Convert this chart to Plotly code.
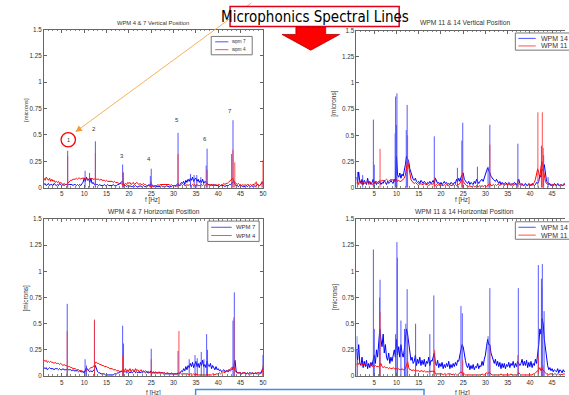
import plotly.graph_objects as go

W, H = 569, 395


def fx(p):
    return p / W


def fy(p):
    return 1 - p / H


# frequency grid of the spectra: 1.00 .. 50.00 Hz every 0.25 Hz
freq_start, freq_step, n_freq = 1.0, 0.25, 197
freq = [freq_start + freq_step * i for i in range(n_freq)]

# ---- spectrum floors, hundredths of a micron (one row = 1 Hz) ----
tl_wpm7_base = [
    3, 4, 2, 3, 4, 2, 3, 3, 2, 4, 3, 2, 3, 2, 4, 3, 2, 3, 2, 3,
    3, 4, 3, 3, 3, 3, 2, 3, 3, 2, 3, 2, 3, 2, 4, 5, 9, 6, 10, 7,
    8, 5, 9, 4, 5, 3, 4, 3, 3, 2, 3, 2, 2, 2, 3, 2, 2, 3, 2, 2,
    2, 2, 3, 2, 2, 2, 3, 3, 4, 5, 6, 5, 2, 2, 1, 2, 1, 2, 1, 1,
    2, 1, 2, 1, 1, 1, 2, 1, 1, 2, 1, 1, 1, 2, 3, 2, 4, 2, 1, 1,
    1, 1, 1, 1, 1, 2, 1, 1, 1, 1, 2, 1, 1, 1, 1, 2, 1, 2, 2, 3,
    4, 2, 3, 5, 4, 6, 3, 7, 5, 8, 6, 9, 7, 10, 6, 8, 9, 6, 8, 5,
    7, 5, 8, 4, 6, 5, 4, 3, 3, 2, 3, 2, 2, 3, 2, 2, 2, 1, 2, 2,
    2, 2, 1, 2, 2, 2, 3, 3, 4, 5, 6, 3, 2, 2, 1, 2, 1, 2, 1, 1,
    1, 2, 1, 2, 1, 1, 2, 1, 2, 1, 2, 3, 2, 2, 3, 5, 4]
tl_wpm4_base = [
    9, 7, 10, 8, 7, 9, 6, 8, 6, 7, 5, 6, 5, 6, 4, 5, 4, 3, 4, 3,
    3, 4, 5, 6, 7, 7, 8, 8, 8, 9, 8, 9, 9, 8, 9, 9, 9, 8, 9, 8,
    8, 9, 8, 9, 8, 8, 9, 8, 8, 8, 7, 8, 7, 7, 7, 6, 7, 6, 6, 6,
    6, 6, 5, 6, 5, 5, 5, 4, 4, 4, 3, 3, 3, 4, 3, 5, 4, 5, 3, 4,
    5, 3, 4, 5, 4, 3, 4, 3, 3, 4, 3, 3, 2, 2, 2, 1, 2, 1, 2, 2,
    2, 2, 3, 2, 3, 3, 3, 3, 3, 3, 3, 3, 3, 2, 3, 2, 2, 2, 1, 2,
    2, 2, 2, 3, 2, 3, 2, 2, 3, 2, 3, 2, 2, 3, 2, 3, 2, 3, 2, 2,
    2, 3, 2, 3, 2, 3, 4, 3, 2, 3, 2, 3, 3, 2, 3, 2, 3, 3, 2, 3,
    3, 4, 3, 4, 4, 5, 6, 7, 8, 9, 6, 5, 4, 3, 4, 3, 3, 2, 3, 2,
    3, 2, 3, 3, 2, 3, 2, 3, 3, 4, 5, 3, 3, 2, 3, 4, 6]
tr_wpm14_base = [
    10, 5, 15, 6, 4, 8, 3, 7, 5, 3, 9, 4, 6, 3, 5, 8, 4, 6, 3, 5,
    4, 6, 3, 5, 4, 7, 5, 3, 6, 4, 5, 7, 5, 4, 8, 6, 30, 12, 10, 14,
    9, 13, 11, 16, 22, 30, 28, 25, 18, 14, 10, 8, 7, 9, 6, 5, 6, 4, 7, 5,
    4, 6, 5, 3, 5, 4, 6, 4, 5, 7, 4, 9, 6, 4, 5, 3, 5, 3, 4, 6,
    4, 5, 3, 4, 3, 5, 4, 3, 5, 4, 8, 6, 9, 6, 10, 12, 14, 8, 6, 5,
    4, 6, 3, 5, 4, 3, 6, 4, 8, 5, 4, 6, 7, 8, 6, 10, 12, 16, 19, 17,
    14, 11, 9, 8, 7, 6, 8, 5, 4, 6, 3, 5, 4, 3, 5, 4, 3, 5, 4, 3,
    4, 3, 5, 4, 3, 5, 8, 4, 3, 4, 2, 3, 4, 3, 2, 4, 3, 2, 4, 3,
    2, 3, 5, 4, 6, 12, 10, 18, 16, 22, 10, 6, 5, 3, 4, 2, 3, 2, 4, 3,
    2, 4, 3, 2, 3, 2, 3, 4, 2, 3, 2, 3, 2, 3, 2, 3, 2]
tr_wpm11_base = [
    4, 6, 3, 7, 5, 3, 6, 4, 5, 4, 6, 3, 4, 5, 3, 4, 5, 4, 6, 5,
    6, 7, 6, 7, 7, 6, 7, 8, 7, 6, 7, 8, 7, 8, 6, 7, 8, 6, 7, 6,
    6, 7, 8, 9, 12, 18, 25, 20, 12, 8, 6, 5, 4, 5, 4, 3, 4, 3, 4, 3,
    3, 4, 3, 3, 3, 2, 3, 4, 3, 4, 3, 2, 3, 2, 3, 2, 3, 2, 2, 3,
    2, 3, 2, 2, 3, 2, 2, 3, 2, 3, 2, 3, 3, 4, 6, 8, 6, 4, 3, 2,
    2, 1, 2, 1, 1, 2, 1, 1, 2, 1, 1, 2, 1, 2, 1, 2, 2, 1, 2, 3,
    4, 2, 2, 3, 2, 3, 2, 3, 3, 2, 3, 4, 3, 2, 3, 3, 2, 3, 3, 2,
    3, 2, 3, 3, 2, 3, 4, 3, 2, 3, 2, 2, 3, 2, 2, 3, 2, 3, 2, 4,
    5, 8, 12, 18, 14, 10, 20, 25, 18, 10, 6, 4, 3, 4, 3, 2, 3, 2, 3, 2,
    2, 3, 2, 2, 3, 2, 2, 3, 2, 2, 3, 2, 2, 3, 2, 2, 2]
bl_wpm7_base = [
    8, 7, 8, 6, 7, 8, 7, 7, 7, 6, 7, 7, 7, 6, 7, 6, 6, 7, 6, 6,
    6, 7, 6, 6, 6, 5, 6, 5, 5, 5, 5, 4, 5, 4, 4, 4, 3, 6, 8, 6,
    5, 4, 5, 4, 5, 6, 10, 6, 4, 3, 3, 2, 2, 2, 2, 1, 1, 1, 1, 1,
    1, 1, 1, 2, 2, 2, 3, 3, 4, 4, 5, 4, 4, 4, 3, 4, 4, 3, 4, 3,
    4, 5, 3, 4, 3, 4, 3, 4, 3, 4, 4, 3, 4, 3, 3, 4, 5, 3, 3, 3,
    3, 3, 3, 3, 3, 3, 3, 2, 3, 2, 2, 2, 2, 2, 2, 2, 2, 2, 2, 2,
    3, 2, 3, 5, 4, 7, 5, 9, 6, 10, 8, 12, 9, 13, 8, 11, 14, 9, 12, 8,
    13, 10, 15, 9, 11, 8, 14, 10, 9, 12, 7, 10, 8, 6, 9, 6, 7, 5, 6, 4,
    5, 6, 4, 5, 5, 4, 6, 5, 6, 8, 10, 15, 5, 3, 3, 3, 3, 2, 3, 3,
    3, 2, 3, 2, 3, 3, 2, 3, 2, 3, 2, 3, 3, 2, 3, 5, 8]
bl_wpm4_base = [
    15, 14, 15, 13, 14, 13, 14, 13, 13, 12, 13, 12, 12, 12, 11, 12, 11, 10, 11, 10,
    10, 9, 9, 9, 8, 8, 7, 7, 7, 6, 6, 6, 5, 5, 5, 4, 4, 5, 5, 6,
    6, 7, 8, 8, 9, 10, 13, 13, 12, 12, 11, 11, 10, 10, 9, 9, 9, 8, 8, 7,
    7, 7, 6, 6, 6, 5, 5, 5, 4, 5, 4, 6, 5, 7, 4, 6, 5, 7, 4, 6,
    6, 4, 7, 5, 6, 4, 5, 6, 4, 5, 4, 5, 4, 4, 4, 3, 4, 3, 4, 3,
    4, 3, 3, 4, 3, 3, 3, 3, 3, 2, 3, 3, 2, 2, 3, 2, 2, 2, 2, 2,
    2, 3, 3, 2, 2, 2, 2, 2, 2, 2, 1, 2, 2, 1, 2, 1, 1, 2, 1, 1,
    1, 1, 1, 1, 1, 1, 1, 1, 1, 1, 1, 2, 2, 1, 2, 2, 2, 3, 2, 3,
    3, 4, 3, 5, 4, 6, 5, 7, 8, 6, 9, 5, 4, 3, 3, 3, 3, 2, 3, 3,
    3, 2, 3, 2, 3, 2, 3, 3, 2, 3, 3, 2, 3, 3, 2, 4, 6]
br_wpm14_base = [
    25, 15, 30, 12, 10, 18, 8, 14, 9, 15, 7, 12, 8, 13, 10, 16, 20, 12, 25, 18,
    30, 45, 35, 28, 40, 22, 30, 18, 15, 22, 12, 18, 14, 20, 25, 18, 35, 20, 28, 18,
    30, 22, 18, 25, 35, 45, 40, 30, 22, 15, 18, 12, 14, 20, 10, 16, 12, 18, 10, 15,
    11, 16, 9, 14, 12, 18, 10, 15, 14, 20, 22, 12, 10, 15, 8, 12, 9, 13, 7, 11,
    8, 12, 9, 14, 7, 11, 8, 12, 9, 13, 10, 15, 14, 20, 25, 30, 28, 20, 15, 10,
    8, 12, 6, 10, 7, 11, 6, 9, 8, 12, 7, 10, 9, 14, 10, 16, 20, 28, 35, 30,
    30, 22, 18, 14, 12, 16, 10, 14, 9, 13, 7, 12, 8, 12, 7, 11, 9, 13, 8, 12,
    10, 14, 8, 12, 9, 14, 12, 10, 12, 16, 10, 14, 10, 15, 8, 13, 9, 14, 8, 12,
    10, 16, 12, 20, 30, 45, 40, 55, 50, 35, 25, 15, 10, 6, 8, 5, 7, 4, 6, 5,
    4, 7, 3, 6, 5, 3, 6, 4, 5, 3, 5, 4, 4, 6, 3, 5, 4]
br_wpm11_base = [
    10, 13, 11, 12, 11, 12, 10, 11, 11, 10, 11, 10, 10, 11, 9, 10, 9, 10, 9, 9,
    9, 10, 12, 9, 8, 9, 8, 8, 8, 7, 8, 7, 7, 8, 7, 7, 7, 6, 7, 6,
    6, 7, 6, 6, 7, 10, 14, 8, 6, 6, 5, 6, 5, 6, 5, 5, 5, 4, 5, 5,
    4, 5, 4, 4, 4, 4, 5, 4, 5, 4, 5, 2, 2, 2, 2, 2, 2, 2, 1, 2,
    2, 1, 2, 2, 2, 2, 1, 2, 1, 2, 1, 1, 2, 3, 4, 3, 3, 2, 1, 1,
    1, 1, 1, 1, 1, 1, 1, 1, 1, 1, 1, 1, 1, 2, 1, 1, 2, 3, 2, 3,
    3, 2, 1, 1, 1, 1, 1, 1, 1, 1, 2, 1, 1, 1, 1, 1, 1, 1, 1, 2,
    1, 1, 1, 1, 1, 2, 3, 2, 1, 1, 1, 1, 1, 1, 1, 1, 1, 1, 1, 2,
    2, 3, 4, 5, 6, 8, 5, 7, 6, 4, 3, 2, 2, 1, 2, 2, 2, 1, 2, 2,
    1, 2, 2, 1, 2, 1, 2, 2, 1, 2, 2, 1, 2, 1, 2, 2, 2]

# ---- spectral lines: frequency [Hz] and amplitude [microns] ----
tl_wpm7_line_f = [6.3, 10.2, 11.2, 12.5, 18.6, 18.75, 24.8, 25.0, 31.0, 33.8, 34.6, 35.2, 36.1, 37.3, 37.5, 43.0, 43.3, 49.8]
tl_wpm7_line_a = [0.35, 0.16, 0.14, 0.44, 0.22, 0.14, 0.11, 0.18, 0.52, 0.13, 0.12, 0.12, 0.10, 0.21, 0.37, 0.32, 0.64, 0.06]
tl_wpm4_line_f = [6.3, 12.5, 18.7, 25.0, 31.0, 37.5, 43.3, 43.7, 48.5, 50.0]
tl_wpm4_line_a = [0.30, 0.33, 0.15, 0.06, 0.32, 0.17, 0.36, 0.24, 0.06, 0.26]

tr_wpm14_line_f = [1.2, 2.4, 4.8, 5.0, 9.7, 9.8, 10.0, 10.1, 12.2, 12.4, 18.5, 23.7, 24.7, 24.9, 28.2, 30.6, 31.0, 37.3, 42.6, 43.1, 44.1]
tr_wpm14_line_a = [0.15, 0.12, 0.65, 0.22, 0.52, 0.87, 0.60, 0.90, 0.55, 0.79, 0.49, 0.19, 0.45, 0.62, 0.20, 0.20, 0.60, 0.42, 0.40, 0.31, 0.10]
tr_wpm11_line_f = [6.3, 12.5, 18.6, 24.9, 31.0, 37.3, 41.8, 42.8, 43.0]
tr_wpm11_line_a = [0.37, 0.50, 0.10, 0.15, 0.41, 0.08, 0.72, 0.72, 0.38]

bl_wpm7_line_f = [6.2, 10.2, 10.5, 12.3, 18.6, 18.8, 25.0, 31.0, 33.5, 34.8, 35.3, 36.2, 36.8, 37.4, 37.6, 43.3, 43.6, 50.0]
bl_wpm7_line_a = [0.69, 0.16, 0.10, 0.53, 0.48, 0.31, 0.26, 0.24, 0.16, 0.20, 0.17, 0.23, 0.16, 0.40, 0.25, 0.53, 0.80, 0.20]
bl_wpm4_line_f = [6.2, 12.3, 18.6, 25.0, 31.2, 43.5, 50.0]
bl_wpm4_line_a = [0.43, 0.54, 0.20, 0.16, 0.43, 0.56, 0.10]

br_wpm14_line_f = [1.1, 4.8, 5.0, 6.2, 6.3, 9.8, 10.1, 10.2, 11.0, 11.8, 12.1, 12.4, 14.3, 17.5, 18.4, 24.5, 24.8, 30.6, 31.0, 37.4, 41.9, 42.6, 42.7, 42.8, 43.2]
br_wpm14_line_a = [0.38, 1.21, 0.45, 0.75, 0.92, 0.40, 1.28, 1.13, 0.53, 0.45, 0.50, 0.83, 0.50, 0.40, 0.77, 0.67, 0.60, 0.38, 0.84, 0.84, 1.06, 0.93, 0.85, 1.07, 0.62]
br_wpm11_line_f = [1.2, 6.3, 12.5, 18.6, 24.9, 31.0, 37.3, 41.9, 43.0]
br_wpm11_line_a = [0.15, 0.61, 0.38, 0.25, 0.15, 0.27, 0.20, 0.20, 0.10]

# ---- axes ticks / texts ----
x_tick_vals = [5, 10, 15, 20, 25, 30, 35, 40, 45, 50]
x_tick_text = ["5", "10", "15", "20", "25", "30", "35", "40", "45", "50"]
y_tick_vals = [0, 0.25, 0.5, 0.75, 1, 1.25, 1.5]
y_tick_text = ["0", "0.25", "0.5", "0.75", "1", "1.25", "1.5"]

panel_titles = ["WPM 4 & 7 Vertical Position", "WPM 11 & 14 Vertical Position",
                "WPM 4 & 7 Horizontal Position", "WPM 11 & 14 Horizontal Position"]
legend_names = [("wpm 7", "wpm 4"), ("WPM 14", "WPM 11"), ("WPM 7", "WPM 4"), ("WPM 14", "WPM 11")]
line_numbers = ["2", "3", "4", "5", "6", "7"]
line_number_f = [12.2, 18.5, 24.5, 30.7, 37.1, 42.7]
line_number_y = [0.56, 0.30, 0.27, 0.64, 0.46, 0.73]

for arr in (tl_wpm7_base, tl_wpm4_base, tr_wpm14_base, tr_wpm11_base,
            bl_wpm7_base, bl_wpm4_base, br_wpm14_base, br_wpm11_base):
    assert len(arr) == n_freq, len(arr)

BLUE = "#0000ff"
RED = "#ff0000"
TXT = "#333333"
FONT = "Liberation Sans, Arial, sans-serif"

fig = go.Figure()


def line_xy(fs, amps):
    xs, ys = [], []
    for f, a in zip(fs, amps):
        xs += [f, f, None]
        ys += [0, a, None]
    return xs, ys


def add_panel(k, b_base, b_f, b_a, r_base, r_f, r_a):
    xa = "x" if k == 1 else f"x{k}"
    ya = "y" if k == 1 else f"y{k}"
    common = dict(mode="lines", xaxis=xa, yaxis=ya, hoverinfo="skip", showlegend=False)
    fig.add_trace(go.Scatter(x=freq, y=[v / 100 for v in b_base], line=dict(color=BLUE, width=1), **common))
    sx, sy = line_xy(b_f, b_a)
    fig.add_trace(go.Scatter(x=sx, y=sy, line=dict(color="#3c3cff", width=1), opacity=0.85, **common))
    fig.add_trace(go.Scatter(x=freq, y=[v / 100 for v in r_base], line=dict(color=RED, width=1), **common))
    sx, sy = line_xy(r_f, r_a)
    fig.add_trace(go.Scatter(x=sx, y=sy, line=dict(color="#ff3030", width=1), opacity=0.85, **common))


add_panel(1, tl_wpm7_base, tl_wpm7_line_f, tl_wpm7_line_a, tl_wpm4_base, tl_wpm4_line_f, tl_wpm4_line_a)
add_panel(2, tr_wpm14_base, tr_wpm14_line_f, tr_wpm14_line_a, tr_wpm11_base, tr_wpm11_line_f, tr_wpm11_line_a)
add_panel(3, bl_wpm7_base, bl_wpm7_line_f, bl_wpm7_line_a, bl_wpm4_base, bl_wpm4_line_f, bl_wpm4_line_a)
add_panel(4, br_wpm14_base, br_wpm14_line_f, br_wpm14_line_a, br_wpm11_base, br_wpm11_line_f, br_wpm11_line_a)

# panel boxes in pixels: left, right, top, bottom ; x range
panels = [
    dict(l=44.3, r=264.8, t=26, b=187, xr=[1, 50], right=True),
    dict(l=359, r=569, t=27, b=187, xr=[1, 47.9], right=False),
    dict(l=44.3, r=264.8, t=219, b=378.7, xr=[1, 50], right=True),
    dict(l=359, r=569, t=219, b=378.7, xr=[1, 47.9], right=False),
]

axis_common = dict(showline=True, linecolor="#666666", linewidth=1, ticks="inside", ticklen=3,
                   tickcolor="#666666", showgrid=False, zeroline=False, fixedrange=True,
                   tickfont=dict(family=FONT, size=6.3, color=TXT))
layout_axes = {}
for i, p in enumerate(panels):
    k = i + 1
    xn = "xaxis" if k == 1 else f"xaxis{k}"
    yn = "yaxis" if k == 1 else f"yaxis{k}"
    layout_axes[xn] = dict(domain=[fx(p["l"]), fx(p["r"])], range=p["xr"], anchor="y" if k == 1 else f"y{k}",
                           tickvals=x_tick_vals, ticktext=x_tick_text, mirror="ticks",
                           minor=dict(ticks="inside", ticklen=1.5, dtick=1, tickcolor="#888888"),
                           **axis_common)
    layout_axes[yn] = dict(domain=[fy(p["b"]), fy(p["t"])], range=[0, 1.5], anchor="x" if k == 1 else f"x{k}",
                           tickvals=y_tick_vals, ticktext=y_tick_text,
                           mirror="ticks" if p["right"] else False, **axis_common)

fig.update_layout(width=W, height=H, margin=dict(l=0, r=0, t=0, b=0),
                  paper_bgcolor="white", plot_bgcolor="white", **layout_axes)

annotations = []
shapes = []


def text(px, py, s, size, color=TXT, angle=0, xanchor="center", yanchor="middle", family=FONT):
    annotations.append(dict(x=fx(px), y=fy(py), xref="paper", yref="paper", text=s, showarrow=False,
                            font=dict(family=family, size=size, color=color), textangle=angle,
                            xanchor=xanchor, yanchor=yanchor))


# titles, axis labels
title_pos = [(154, 19, 5.8), (468, 19, 6.7), (155, 211, 6.7), (468, 211, 6.7)]
for (x, y, s), t in zip(title_pos, panel_titles):
    text(x, y, t, s)
for x, y, s in [(154, 199.5, 6.3), (466, 200, 6.3)]:
    text(x, y, "f [Hz]", s)
for x, y, s in [(155, 389.5, 6.3), (466, 389.5, 6.3)]:
    text(x, y, "f [Hz]", s, yanchor="top")
for x, y, s in [(26, 108, 5.8), (26, 299, 6.5), (337, 101, 6.5), (337, 298, 6.5)]:
    text(x, y, "[microns]", s, angle=-90)

# legends (drawn boxes)
legend_geo = [
    dict(x0=212.7, x1=254, y0=33, y1=51.7, lx0=216.7, lx1=230, ly=(38.5, 46.5), tx=231.5, size=4.6),
    dict(x0=519, x1=575, y0=29.5, y1=47, lx0=522, lx1=539.5, ly=(35, 42.7), tx=543, size=7),
    dict(x0=209.3, x1=261, y0=221, y1=241.7, lx0=212.7, lx1=233.3, ly=(227.3, 235.7), tx=236, size=5.9),
    dict(x0=519, x1=575, y0=221.7, y1=239.5, lx0=522, lx1=539.5, ly=(227.3, 235.3), tx=543, size=7),
]
for g, names in zip(legend_geo, legend_names):
    shapes.append(dict(type="rect", xref="paper", yref="paper", x0=fx(g["x0"]), x1=fx(g["x1"]),
                       y0=fy(g["y1"]), y1=fy(g["y0"]), line=dict(color="#777777", width=1), fillcolor="white"))
    for ly, col, nm in zip(g["ly"], ("#5050ff", "#ff5050"), names):
        shapes.append(dict(type="line", xref="paper", yref="paper", x0=fx(g["lx0"]), x1=fx(g["lx1"]),
                           y0=fy(ly), y1=fy(ly), line=dict(color=col, width=1)))
        text(g["tx"], ly, nm, g["size"], xanchor="left")

# numbered spectral lines in the first panel
for s, f, v in zip(line_numbers, line_number_f, line_number_y):
    annotations.append(dict(x=f, y=v, xref="x", yref="y", text=s, showarrow=False,
                            font=dict(family=FONT, size=6, color=TXT)))
text(68.7, 138, "1", 5.5)
shapes.append(dict(type="circle", xref="paper", yref="paper", x0=fx(61.5), x1=fx(76), y0=fy(145.5), y1=fy(131),
                   line=dict(color=RED, width=1.3)))

# orange pointer line from the label to line 1
shapes.append(dict(type="line", xref="paper", yref="paper", x0=fx(253), y0=fy(-1), x1=fx(77), y1=fy(129.5),
                   line=dict(color="#f6b25a", width=1)))
annotations.append(dict(x=fx(76), y=fy(130.3), xref="paper", yref="paper", text="", showarrow=True,
                        ax=7, ay=-5.2, arrowhead=2, arrowsize=1.3, arrowwidth=1, arrowcolor="#f39c32"))

# "Microphonics Spectral Lines" box and red arrow
shapes.append(dict(type="rect", xref="paper", yref="paper", x0=fx(231.7), x1=fx(402), y0=fy(23), y1=fy(2.5),
                   line=dict(color="#e0001a", width=1.5), fillcolor="white"))
text(317, 13, "Microphonics Spectral Lines", 15, color="#000000",
     family="Liberation Sans Narrow, DejaVu Sans Condensed, Liberation Sans, sans-serif")
arrow_pts = [(298, 23.5), (328, 23.5), (328, 31), (342, 31), (313, 47), (284, 31), (298, 31)]
path = "M " + " L ".join(f"{fx(x):.5f},{fy(y):.5f}" for x, y in arrow_pts) + " Z"
shapes.append(dict(type="path", xref="paper", yref="paper", path=path, fillcolor="#ff0000",
                   line=dict(color="#b00000", width=0.8)))

# bottom blue box (cut off by the page edge)
shapes.append(dict(type="rect", xref="paper", yref="paper", x0=fx(197), x1=fx(427), y0=fy(402), y1=fy(392.5),
                   line=dict(color="#3f8fe6", width=1.5), fillcolor="white"))

fig.update_layout(annotations=annotations, shapes=shapes)
fig.write_html("out.html", config={"displayModeBar": False, "staticPlot": True})

# remove the default page margin so the figure sits at the window's top-left corner
with open("out.html", encoding="utf-8") as fh:
    page = fh.read()
page = page.replace("<head>", "<head><style>html,body{margin:0;padding:0;overflow:hidden;}</style>", 1)
with open("out.html", "w", encoding="utf-8") as fh:
    fh.write(page)
